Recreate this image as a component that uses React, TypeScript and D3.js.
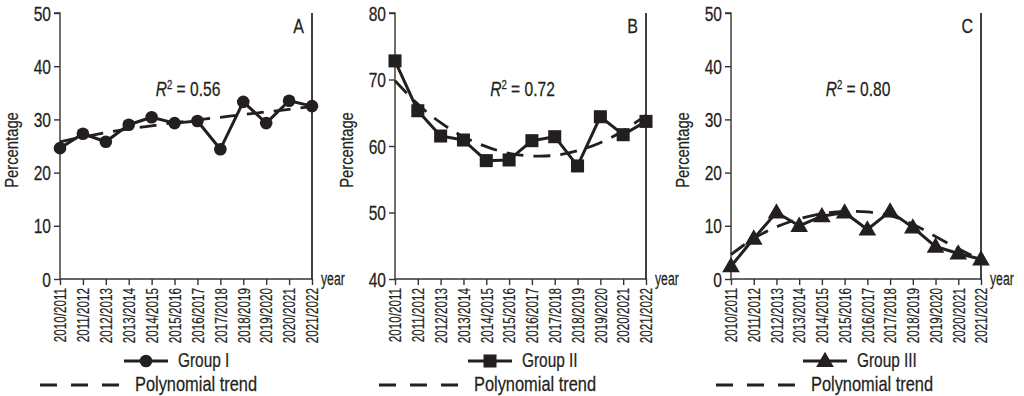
import * as React from 'react';
import * as d3 from 'd3';

const years = [
    '2010/2011', '2011/2012', '2012/2013', '2013/2014', '2014/2015', '2015/2016',
    '2016/2017', '2017/2018', '2018/2019', '2019/2020', '2020/2021', '2021/2022'
];

const groupI = [24.6, 27.3, 25.8, 29.0, 30.4, 29.3, 29.7, 24.4, 33.3, 29.3, 33.5, 32.5];
const trendI = [25.8, 26.7, 27.5, 28.2, 28.8, 29.4, 29.9, 30.4, 30.9, 31.4, 31.9, 32.4];

const groupII = [72.8, 65.3, 61.5, 60.9, 57.8, 57.9, 60.8, 61.4, 57.0, 64.4, 61.7, 63.7];
const trendII = [69.8, 66.3, 63.5, 61.4, 59.9, 58.9, 58.5, 58.6, 59.3, 60.5, 62.3, 64.6];

const groupIII = [2.4, 7.6, 12.5, 10.0, 11.8, 12.5, 9.3, 12.7, 9.7, 6.1, 4.8, 3.7];
const trendIII = [4.6, 7.6, 9.8, 11.3, 12.3, 12.7, 12.6, 11.9, 10.3, 8.0, 5.7, 3.6];

const yTicksI = [0, 10, 20, 30, 40, 50];
const yTicksII = [40, 50, 60, 70, 80];
const yTicksIII = [0, 10, 20, 30, 40, 50];

const panelLetters = ['A', 'B', 'C'];
const r2Values = ['0.56', '0.72', '0.80'];
const groupNames = ['Group I', 'Group II', 'Group III'];
const trendName = 'Polynomial trend';

// no condensed face installed, so squeeze Liberation Sans horizontally
const FONT = "'Liberation Sans', Arial, sans-serif";
const squeeze = (s: number) => `scale(${s},1)`;
const INK = '#231f20';

type Marker = 'circle' | 'square' | 'triangle';

interface PanelProps {
    left: number,
    right: number,
    values: number[],
    trend: number[],
    ticks: number[],
    letter: string,
    r2: string,
    name: string,
    marker: Marker,
    legendLine: number,
    legendDash: number,
}

const plotTop = 13;
const plotBottom = 279;

function drawMarker(g: d3.Selection<any, any, any, any>, marker: Marker, x: number, y: number) {
    if (marker === 'circle') {
        g.append('circle').attr('cx', x).attr('cy', y).attr('r', 6.3).attr('fill', INK);
    } else {
        const sym = marker === 'square' ? d3.symbolSquare : d3.symbolTriangle;
        const size = marker === 'square' ? 170 : 135;
        g.append('path')
            .attr('transform', `translate(${x},${y + (marker === 'triangle' ? 1 : 0)})`)
            .attr('d', d3.symbol().type(sym).size(size)())
            .attr('fill', INK);
    }
}

function label(g: d3.Selection<any, any, any, any>, x: number, y: number, size: number, txt: string,
               anchor = 'start', rot = 0, sx = 0.8) {
    return g.append('text')
        .attr('transform', `translate(${x},${y})${rot ? ` rotate(${rot})` : ''} ${squeeze(sx)}`)
        .attr('text-anchor', anchor)
        .attr('font-family', FONT).attr('font-size', size).attr('fill', INK)
        .attr('stroke', INK).attr('stroke-width', 0.25)
        .text(txt);
}

class Panel extends React.Component<PanelProps, object> {
    private node: SVGGElement | null = null;

    render() {
        return <g ref={node => { this.node = node; }}></g>;
    }

    componentDidMount() {
        this.draw();
    }

    componentDidUpdate() {
        this.draw();
    }

    draw() {
        const p = this.props;
        const root = d3.select(this.node);
        root.selectAll('*').remove();

        const x = d3.scalePoint<string>().domain(years).range([p.left, p.right]);
        const y = d3.scaleLinear()
            .domain([p.ticks[0], p.ticks[p.ticks.length - 1]])
            .range([plotBottom, plotTop]);

        // axes
        const yAxis = root.append('g')
            .attr('transform', `translate(${p.left},0)`)
            .call(d3.axisLeft(y).tickValues(p.ticks).tickSize(6).tickFormat(d3.format('d')));
        yAxis.select('.domain').attr('stroke', '#333').attr('stroke-width', 1.4).attr('d', `M-6,${plotTop}H0V${plotBottom}`);
        yAxis.selectAll('.tick line').attr('stroke', '#333').attr('stroke-width', 1.4);
        yAxis.selectAll('.tick text')
            .attr('x', 0).attr('dy', '0.35em')
            .attr('transform', `translate(-9,0) ${squeeze(0.76)}`)
            .attr('font-family', FONT).attr('font-size', 20.5).attr('fill', INK)
            .attr('stroke', INK).attr('stroke-width', 0.25);

        const xAxis = root.append('g')
            .attr('transform', `translate(0,${plotBottom})`)
            .call(d3.axisBottom(x).tickSize(6));
        xAxis.select('.domain').attr('stroke', '#333').attr('stroke-width', 1.4).attr('d', `M${p.left},0H${p.right}`);
        xAxis.selectAll('.tick line').attr('stroke', '#333').attr('stroke-width', 1.4);
        xAxis.selectAll('.tick text')
            .attr('font-family', FONT).attr('font-size', 16).attr('fill', INK)
            .attr('stroke', INK).attr('stroke-width', 0.2)
            .attr('text-anchor', 'end')
            .attr('transform', `translate(0,9) rotate(-90) ${squeeze(0.73)}`)
            .attr('x', 0).attr('y', 0).attr('dy', '0.36em');

        root.append('line')
            .attr('x1', p.right).attr('x2', p.right)
            .attr('y1', plotTop).attr('y2', plotBottom)
            .attr('stroke', '#111').attr('stroke-width', 1.6);

        label(root, p.right + 9, plotBottom + 6, 18, 'year', 'start', 0, 0.68);
        label(root, p.left - 42, (plotTop + plotBottom) / 2 + 4, 18.5, 'Percentage', 'middle', -90, 0.8);
        label(root, p.right - 8, 33, 20, p.letter, 'end');

        const r2 = label(root, (p.left + p.right) / 2 + 2, 96, 19.5, '', 'middle');
        r2.append('tspan').attr('font-style', 'italic').text('R');
        r2.append('tspan').attr('font-size', 12).attr('dy', -7).text('2');
        r2.append('tspan').attr('dy', 7).text(` = ${p.r2}`);

        // trend
        const idx = d3.range(years.length);
        root.append('path')
            .datum(idx)
            .attr('fill', 'none')
            .attr('stroke', INK)
            .attr('stroke-width', 2.8)
            .attr('stroke-dasharray', '17,10')
            .attr('d', d3.line<number>()
                .curve(d3.curveNatural)
                .x(i => x(years[i]) as number)
                .y(i => y(p.trend[i])));

        // data line
        root.append('path')
            .datum(idx)
            .attr('fill', 'none')
            .attr('stroke', INK)
            .attr('stroke-width', 3)
            .attr('stroke-linejoin', 'round')
            .attr('d', d3.line<number>()
                .x(i => x(years[i]) as number)
                .y(i => y(p.values[i])));

        const marks = root.append('g');
        idx.forEach(i => drawMarker(marks, p.marker, x(years[i]) as number, y(p.values[i])));

        // legend
        const leg = root.append('g');
        const lx = p.left + p.legendLine;
        leg.append('line')
            .attr('x1', lx).attr('x2', lx + 44).attr('y1', 361).attr('y2', 361)
            .attr('stroke', INK).attr('stroke-width', 3);
        drawMarker(leg, p.marker, lx + 22, 361);
        label(leg, lx + 54, 367, 20, p.name, 'start', 0, 0.77);

        const dx = p.left + p.legendDash;
        leg.append('line')
            .attr('x1', dx).attr('x2', dx + 81).attr('y1', 385).attr('y2', 385)
            .attr('stroke', INK).attr('stroke-width', 3)
            .attr('stroke-dasharray', '17,14');
        label(leg, dx + 95, 391, 20.5, trendName, 'start', 0, 0.8);
    }
}

export default function App() {
    return (
        <svg width={1024} height={396} style={{ position: 'absolute', left: 0, top: 0, background: '#fff' }}>
            <Panel left={60} right={312} values={groupI} trend={trendI} ticks={yTicksI}
                letter={panelLetters[0]} r2={r2Values[0]} name={groupNames[0]} marker="circle"
                legendLine={64} legendDash={-20} />
            <Panel left={395} right={646} values={groupII} trend={trendII} ticks={yTicksII}
                letter={panelLetters[1]} r2={r2Values[1]} name={groupNames[1]} marker="square"
                legendLine={73} legendDash={-16} />
            <Panel left={731} right={981} values={groupIII} trend={trendIII} ticks={yTicksIII}
                letter={panelLetters[2]} r2={r2Values[2]} name={groupNames[2]} marker="triangle"
                legendLine={72} legendDash={-15} />
        </svg>
    );
}
